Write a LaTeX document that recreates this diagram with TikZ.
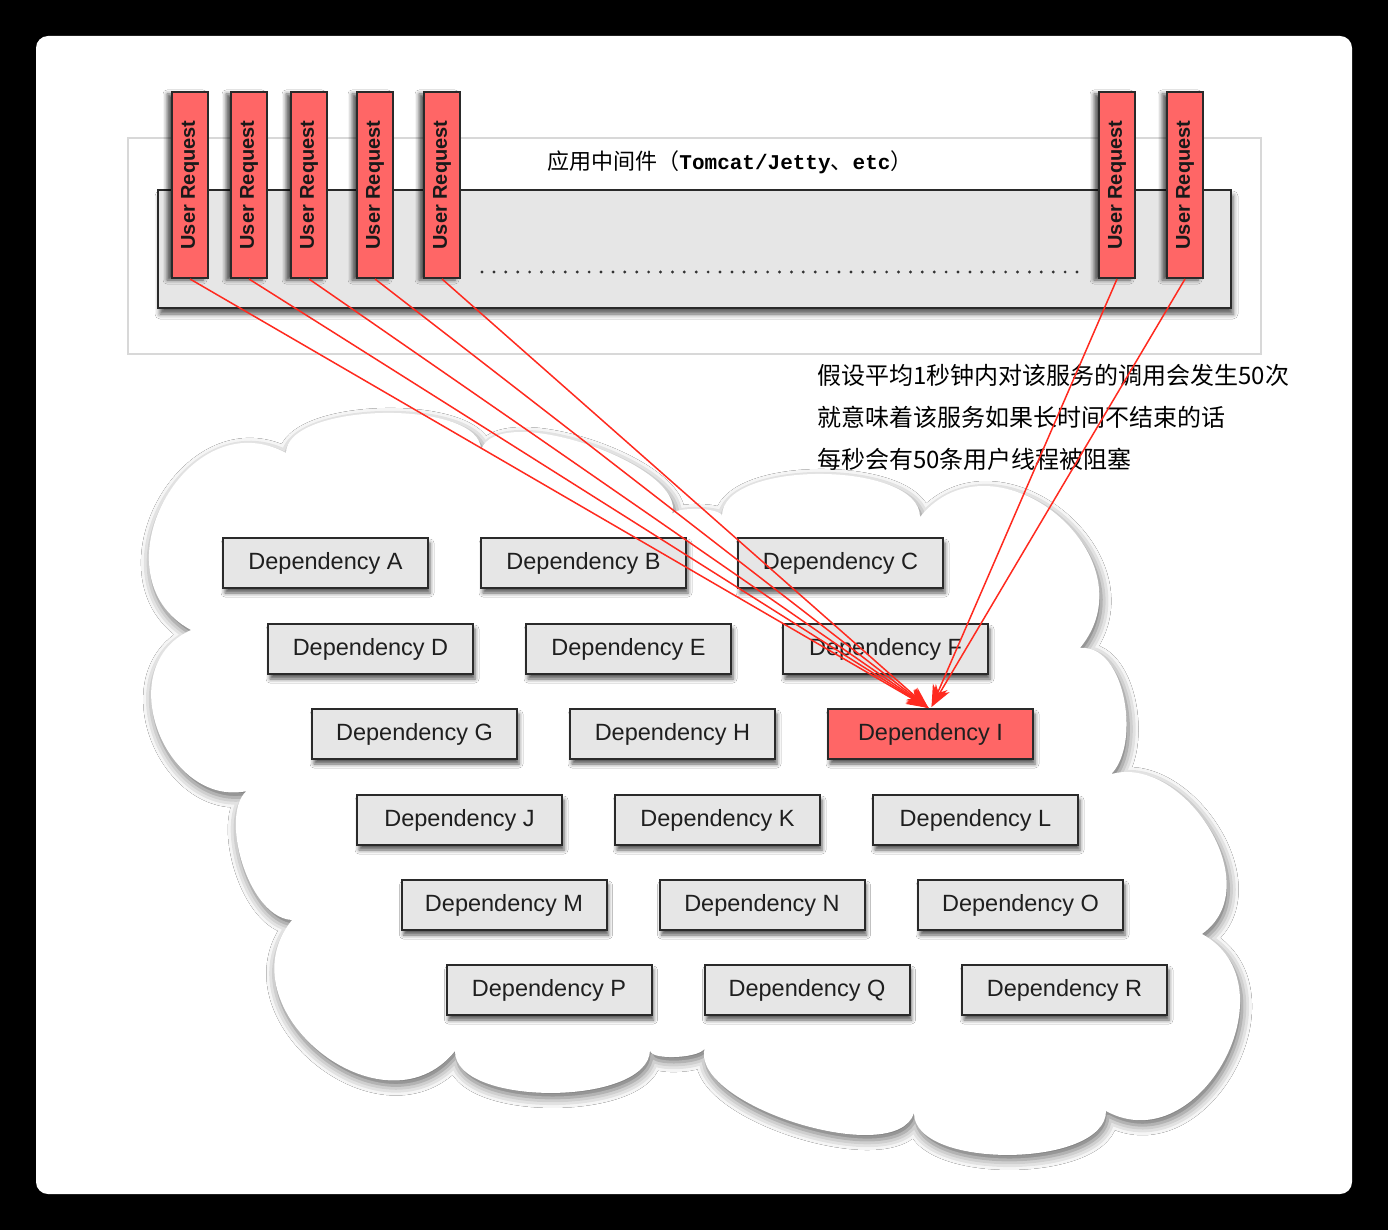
\documentclass[tikz,border=0pt]{standalone}
\usepackage{fontspec}
\setmainfont{Liberation Sans}
\newfontfamily\cjk{Noto Sans CJK SC}
\newfontfamily\monof{Liberation Mono}
\usetikzlibrary{calc,arrows.meta,shadows.blur}
\definecolor{redbox}{HTML}{FF6666}
\definecolor{graybox}{HTML}{E6E6E6}
\definecolor{edge}{HTML}{2A2A2A}
\definecolor{arrowred}{HTML}{FF2A1F}
\definecolor{outline}{HTML}{D8D8D8}
\newcommand\lobe[3]{.. controls ($0.3333*(#1)+1.3333*(#2)-0.6667*(#3)$) and ($0.3333*(#3)+1.3333*(#2)-0.6667*(#1)$) .. (#3)}
\begin{document}
\begin{tikzpicture}[x=1pt,y=-1pt,
  depbox/.style={draw=edge, line width=2pt, fill=graybox, minimum width=205pt, minimum height=50pt, inner sep=0pt,
    font=\fontsize{23.5}{28}\selectfont, text=black!88,
    blur shadow={shadow xshift=2pt, shadow yshift=-5pt, shadow blur radius=4pt, shadow opacity=65}},
  hotbox/.style={depbox, fill=redbox},
  reqbox/.style={draw=edge, line width=2pt, fill=redbox, minimum width=186pt, minimum height=36pt, inner sep=0pt,
    rotate=90, font=\bfseries\fontsize{20}{22}\selectfont, text=black!90,
    blur shadow={shadow xshift=-5pt, shadow yshift=-2pt, shadow blur radius=4pt, shadow opacity=65}},
  flow/.style={draw=arrowred, line width=1.5pt, -{Stealth[length=22pt,width=16pt]}},
  note/.style={anchor=west, inner sep=0pt, font=\cjk\fontsize{24}{28}\selectfont}
]
\useasboundingbox (0,0) rectangle (1388,1230);
\fill[black] (0,0) rectangle (1388,1230);
\fill[white, rounded corners=12pt] (36,36) rectangle (1352,1194);

% middleware
\node[draw=outline, line width=1.2pt, fill=white, minimum width=1133pt, minimum height=216pt, inner sep=0pt] (mw) at (694.5,246) {};
\node[draw=edge, line width=2pt, fill=graybox, minimum width=1073pt, minimum height=118pt, inner sep=0pt,
  blur shadow={shadow xshift=2pt, shadow yshift=-6pt, shadow blur radius=5pt, shadow opacity=65}] (pool) at (694.5,249) {};
\node[inner sep=0pt, font=\cjk\fontsize{22}{26}\selectfont] (title) at (730,162)
  {应用中间件（{\monof\bfseries\fontsize{21}{26}\selectfont Tomcat/Jetty}、{\monof\bfseries\fontsize{21}{26}\selectfont etc}）};
\coordinate (dotL) at (482,272);
\coordinate (dotR) at (1078,272);
\draw[draw=black!80, line width=3.2pt, dash pattern=on 0pt off 11.9pt, line cap=round] (dotL) -- (dotR);

\foreach \i/\x in {1/190,2/249,3/309,4/375,5/442,6/1117,7/1185}
  \node[reqbox] (ur\i) at (\x,185) {User Request};

% cloud
\coordinate (C1) at (191,630);   \coordinate (M1) at (164,501);
\coordinate (C2) at (286,453);   \coordinate (M2) at (384,413);
\coordinate (C3) at (481,450);   \coordinate (M3) at (589,445);
\coordinate (C4) at (672,515);   \coordinate (M4) at (697,509);
\coordinate (C5) at (722,516);   \coordinate (M5) at (821,474);
\coordinate (C6) at (920,517);   \coordinate (M6) at (1056,514);
\coordinate (C7) at (1080,648);  \coordinate (M7) at (1126,712);
\coordinate (C8) at (1093,783);  \coordinate (M8) at (1203,819);
\coordinate (C9) at (1202,934);  \coordinate (M9) at (1224,1061);
\coordinate (C10) at (1106,1111);\coordinate (M10) at (1010,1155);
\coordinate (C11) at (914,1113); \coordinate (M11) at (796,1123);
\coordinate (C12) at (705,1047); \coordinate (M12) at (677,1057);
\coordinate (C13) at (650,1050); \coordinate (M13) at (552,1093);
\coordinate (C14) at (455,1051); \coordinate (M14) at (320,1052);
\coordinate (C15) at (292,920);  \coordinate (M15) at (239,851);
\coordinate (C16) at (262,786);  \coordinate (M16) at (161,738);
\path[fill=white, blur shadow={shadow xshift=2pt, shadow yshift=-5pt, shadow blur radius=10pt, shadow opacity=60}]
  (C1) \lobe{C1}{M1}{C2} \lobe{C2}{M2}{C3} \lobe{C3}{M3}{C4} \lobe{C4}{M4}{C5}
  \lobe{C5}{M5}{C6} \lobe{C6}{M6}{C7} \lobe{C7}{M7}{C8} \lobe{C8}{M8}{C9}
  \lobe{C9}{M9}{C10} \lobe{C10}{M10}{C11} \lobe{C11}{M11}{C12} \lobe{C12}{M12}{C13}
  \lobe{C13}{M13}{C14} \lobe{C14}{M14}{C15} \lobe{C15}{M15}{C16} \lobe{C16}{M16}{C1} -- cycle;

% dependencies
\node[depbox] (depA) at (325.5,563) {Dependency A};
\node[depbox] (depB) at (583.5,563) {Dependency B};
\node[depbox] (depC) at (840.5,563) {Dependency C};
\node[depbox] (depD) at (370.5,649) {Dependency D};
\node[depbox] (depE) at (628.5,649) {Dependency E};
\node[depbox] (depF) at (885.5,649) {Dependency F};
\node[depbox] (depG) at (414.5,734) {Dependency G};
\node[depbox] (depH) at (672.5,734) {Dependency H};
\node[hotbox] (depI) at (930.5,734) {Dependency I};
\node[depbox] (depJ) at (459.5,820) {Dependency J};
\node[depbox] (depK) at (717.5,820) {Dependency K};
\node[depbox] (depL) at (975.5,820) {Dependency L};
\node[depbox] (depM) at (504,905) {Dependency M};
\node[depbox] (depN) at (762,905) {Dependency N};
\node[depbox] (depO) at (1020.5,905) {Dependency O};
\node[depbox] (depP) at (549,990) {Dependency P};
\node[depbox] (depQ) at (807,990) {Dependency Q};
\node[depbox] (depR) at (1064.5,990) {Dependency R};

% notes
\node[note] (n1) at (817,375) {假设平均1秒钟内对该服务的调用会发生50次};
\node[note] (n2) at (817,417) {就意味着该服务如果长时间不结束的话};
\node[note] (n3) at (817,459) {每秒会有50条用户线程被阻塞};

% arrows
\foreach \i in {1,...,5}
  \draw[flow] (ur\i.west) -- ([xshift=-2pt]depI.north);
\foreach \i in {6,7}
  \draw[flow] (ur\i.west) -- ([xshift=1pt,yshift=1pt]depI.north);
\end{tikzpicture}
\end{document}
